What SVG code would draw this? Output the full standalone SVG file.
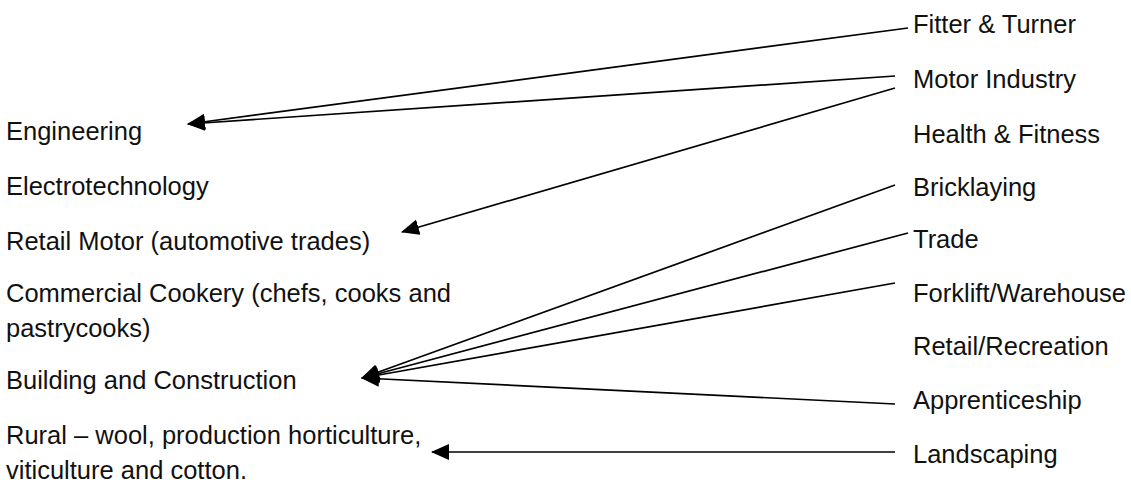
<svg xmlns="http://www.w3.org/2000/svg" width="1131" height="485" viewBox="0 0 1131 485">
<style>
text { font-family: "Liberation Sans", Arial, sans-serif; font-size: 25.5px; fill: #111; }
.c { stroke: #000; stroke-width: 1.7; fill: none; marker-end: url(#ah); }
</style>
<defs>
<marker id="ah" markerUnits="userSpaceOnUse" markerWidth="18" markerHeight="16" refX="17" refY="8" orient="auto">
<path d="M0,0 L18,8 L0,16 z" fill="#000"/>
</marker>
</defs>
<rect width="1131" height="485" fill="#fff"/>
<g id="left">
<g id="engineering"><text x="6" y="140">Engineering</text></g>
<g id="electrotechnology"><text x="6" y="195">Electrotechnology</text></g>
<g id="retail-motor"><text x="6" y="250">Retail Motor (automotive trades)</text></g>
<g id="commercial-cookery"><text x="6" y="302">Commercial Cookery (chefs, cooks and</text><text x="6" y="337">pastrycooks)</text></g>
<g id="building"><text x="6" y="389">Building and Construction</text></g>
<g id="rural"><text x="6" y="444">Rural – wool, production horticulture,</text><text x="6" y="479">viticulture and cotton.</text></g>
</g>
<g id="right">
<g id="fitter"><text x="913" y="33">Fitter &amp; Turner</text></g>
<g id="motor"><text x="913" y="88">Motor Industry</text></g>
<g id="health"><text x="913" y="143">Health &amp; Fitness</text></g>
<g id="bricklaying"><text x="913" y="196">Bricklaying</text></g>
<g id="trade"><text x="913" y="248">Trade</text></g>
<g id="forklift"><text x="913" y="302">Forklift/Warehouse</text></g>
<g id="retail-rec"><text x="913" y="355">Retail/Recreation</text></g>
<g id="apprenticeship"><text x="913" y="409">Apprenticeship</text></g>
<g id="landscaping"><text x="913" y="463">Landscaping</text></g>
</g>
<g id="connectors">
<line class="c" x1="908" y1="28" x2="188" y2="124"/>
<line class="c" x1="895" y1="76" x2="188" y2="124"/>
<line class="c" x1="895" y1="88" x2="402" y2="232"/>
<line class="c" x1="895" y1="185" x2="362" y2="378"/>
<line class="c" x1="908" y1="233" x2="362" y2="378"/>
<line class="c" x1="895" y1="283" x2="362" y2="378"/>
<line class="c" x1="895" y1="404" x2="362" y2="378"/>
<line class="c" x1="895" y1="452" x2="432" y2="452"/>
</g>
</svg>
